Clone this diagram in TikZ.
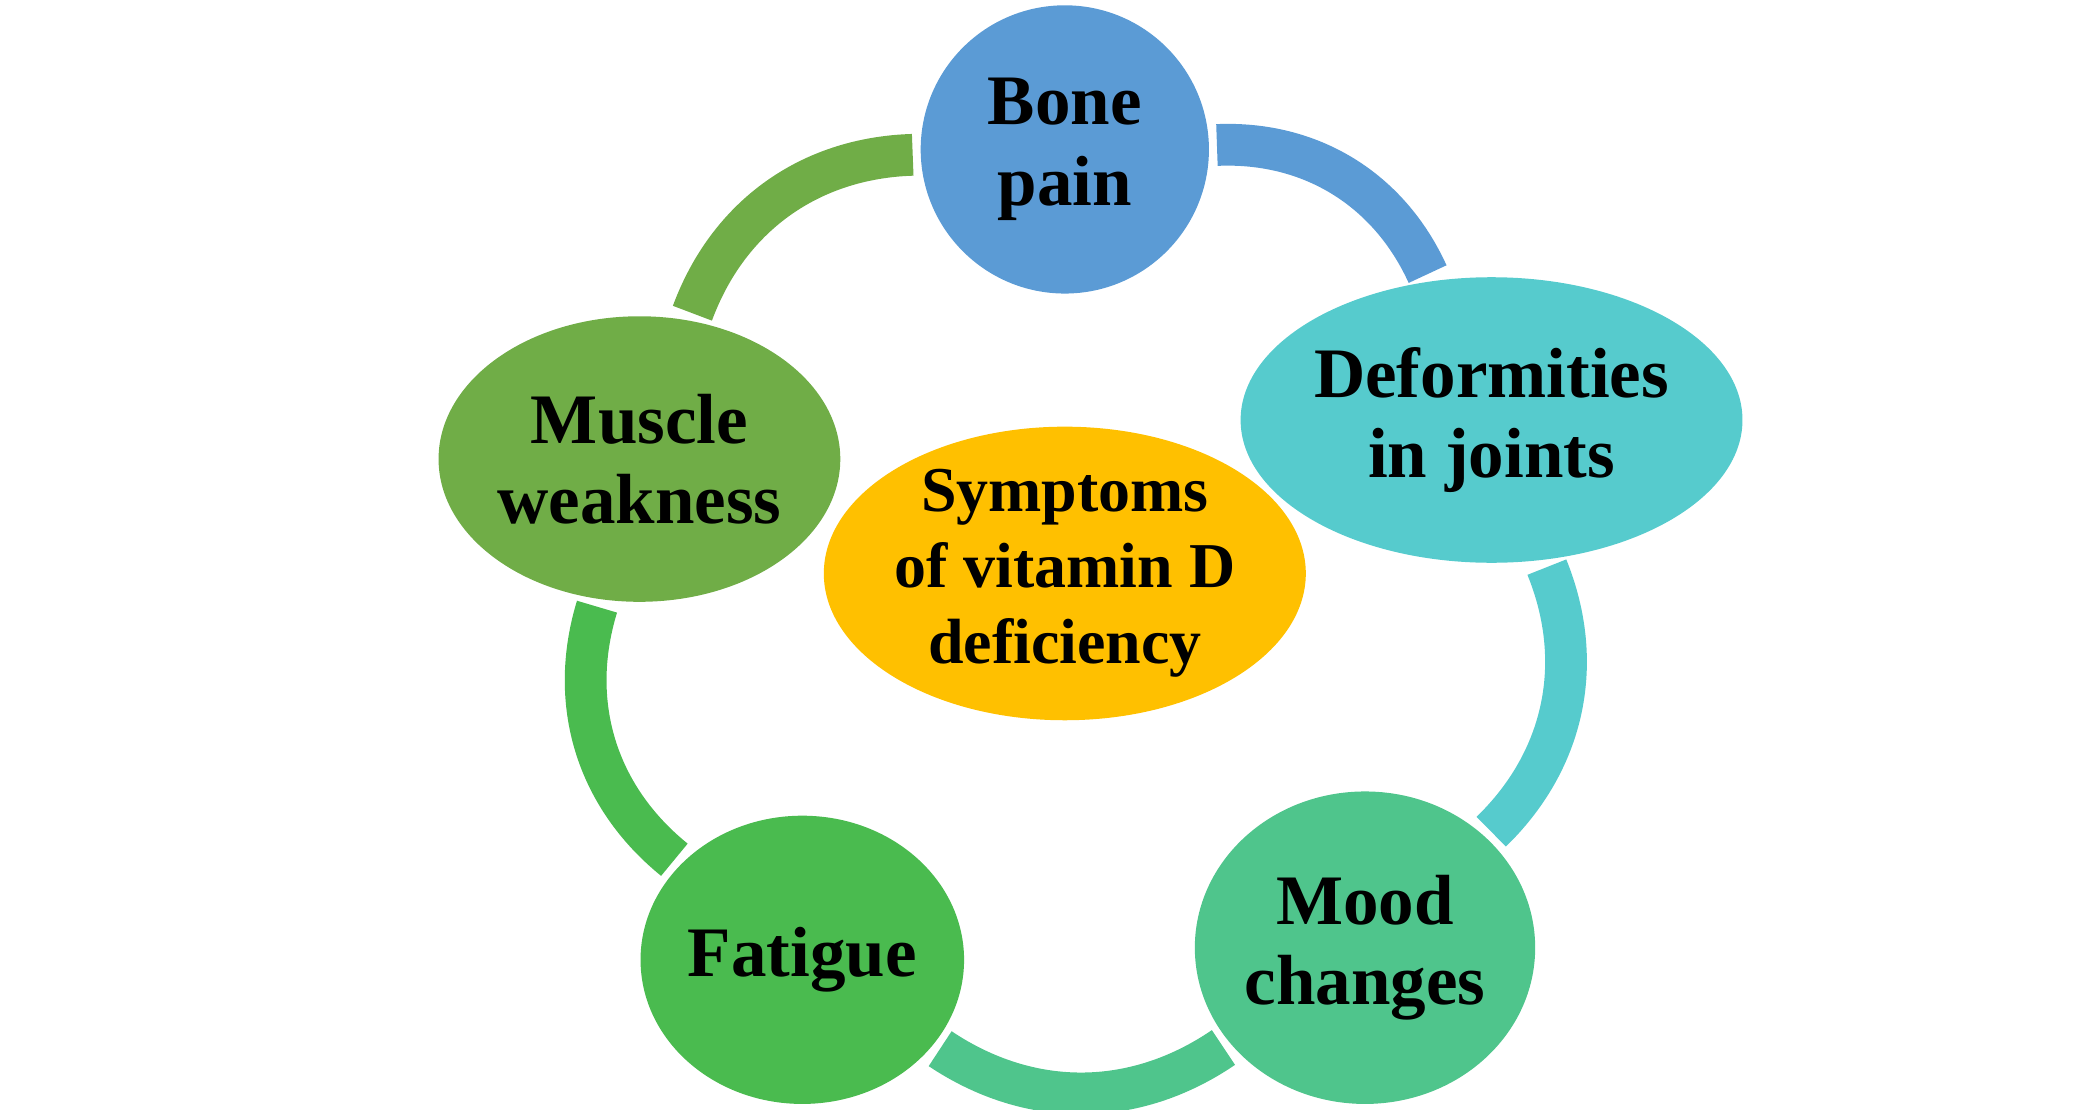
\documentclass[tikz,border=0pt]{standalone}
\usepackage{fontspec}
\setmainfont{Liberation Serif}
\usetikzlibrary{shapes.geometric}
\definecolor{bonecol}{RGB}{91,155,213}
\definecolor{jointcol}{RGB}{86,203,205}
\definecolor{moodcol}{RGB}{79,197,140}
\definecolor{fatiguecol}{RGB}{74,187,79}
\definecolor{musclecol}{RGB}{112,173,71}
\definecolor{corecol}{RGB}{255,192,0}
\tikzset{
	symptom/.style={ellipse, inner sep=0pt, outer sep=0pt, align=center, font=\fontsize{15}{17}\selectfont\bfseries},
	link/.style={line width=3.1mm, shorten <=0.6mm, shorten >=0.6mm, bend left=34}
}

\begin{document}
\begin{tikzpicture}[x=0.01cm,y=-0.01cm]
	\useasboundingbox (0,0) rectangle (1560,824);
	% nodes
	\node[symptom, fill=bonecol, minimum width=2.14cm, minimum height=2.14cm] (bone) at (791,111) {Bone\\pain};
	\node[symptom, fill=jointcol, minimum width=2.56cm, minimum height=2.12cm] (joint) at (1108,312) {Deformities\\in joints};
	\node[symptom, fill=moodcol, minimum width=2.22cm, minimum height=2.32cm] (mood) at (1014,704) {Mood\\changes};
	\node[symptom, fill=fatiguecol, minimum width=2.16cm, minimum height=2.14cm] (fatigue) at (596,713) {Fatigue};
	\node[symptom, fill=musclecol, minimum width=2.86cm, minimum height=2.12cm] (muscle) at (475,341) {Muscle\\weakness};
	\node[symptom, fill=corecol, minimum width=2.98cm, minimum height=2.0cm, font=\fontsize{13.5}{16}\selectfont\bfseries] (core) at (791,426) {Symptoms\\of vitamin D\\deficiency};
	% arcs
	\draw[link, bonecol] (bone) to (joint);
	\draw[link, jointcol] (joint) to (mood);
	\draw[link, moodcol] (mood) to (fatigue);
	\draw[link, fatiguecol] (fatigue) to (muscle);
	\draw[link, musclecol] (muscle) to (bone);
\end{tikzpicture}
\end{document}
